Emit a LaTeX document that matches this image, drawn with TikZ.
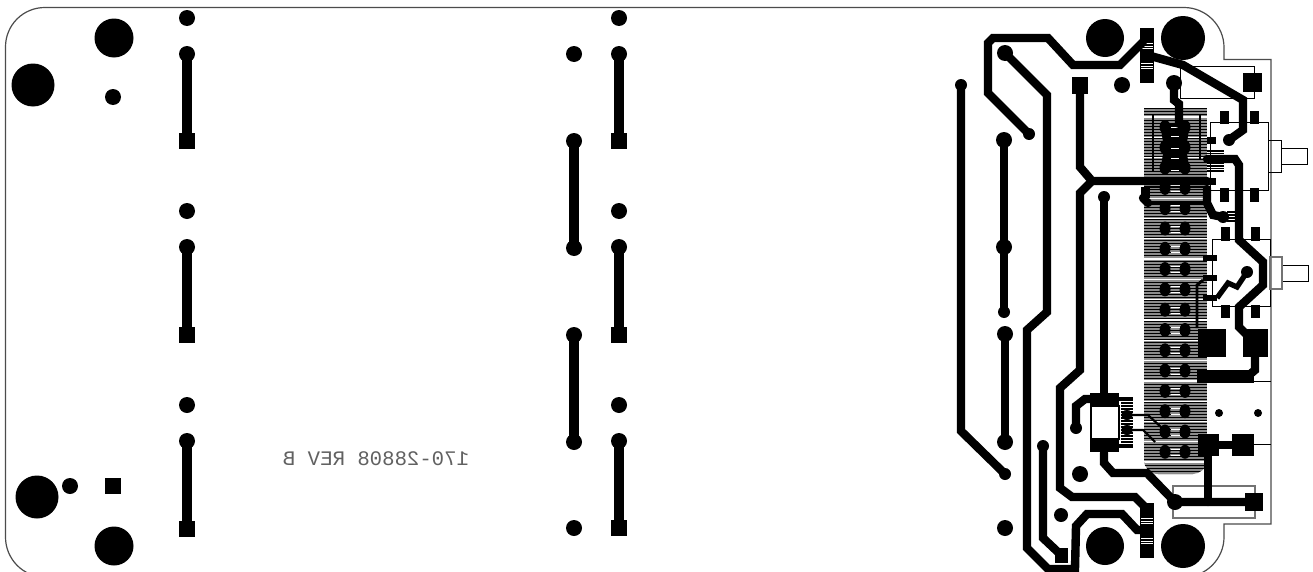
\documentclass[tikz,border=0pt]{standalone}
\usepackage{fontspec}
\newfontfamily\silk{Liberation Mono}
\tikzset{
 px/.style={x=0.75pt,y=-0.75pt},
 outlineln/.style={draw=black!70,line width=0.9pt},
 thinbox/.style={draw=black,line width=0.6pt},
 greybox/.style={draw=black!55,line width=1pt},
 trk/.style={draw=black,line width=6.3pt,line join=miter,line cap=round},
 trkl/.style={draw=black,line width=6.8pt,line cap=round},
 trkn/.style={draw=black,line width=4pt,line join=miter,line cap=butt},
 trkh/.style={draw=black,line width=1.6pt,line join=miter},
}
\newcommand{\hole}[3]{\fill[black] (#1,#2) circle[radius=#3];}
\newcommand{\sq}[4]{\fill[black] (#1,#2) rectangle (#3,#4);}
\begin{document}
\begin{tikzpicture}[px]
\useasboundingbox (0,0) rectangle (1313,571);
\fill[white] (0,0) rectangle (1313,571);
% board outline
\begin{scope}
\clip (0,0) rectangle (1313,571);
\draw[outlineln] (45,7.5) -- (1184,7.5) .. controls (1206,7.5) and (1224,25.5) .. (1224,47.5) -- (1224,59.5) -- (1271,59.5) -- (1271,524) -- (1224,524) -- (1224,537) .. controls (1224,559) and (1206,577) .. (1184,577) -- (45,577) .. controls (23,577) and (5.5,559) .. (5.5,537) -- (5.5,47) .. controls (5.5,25) and (23,7.5) .. (45,7.5) -- cycle;
\end{scope}
% left side
\hole{33}{85}{21.5}\hole{114}{38}{19.5}\hole{113}{97}{8}
\hole{37}{497}{21.5}\hole{70}{486}{8}\sq{105}{478}{121}{494}\hole{114}{546}{19.5}
\foreach \x/\y/\e in {187/54/141,187/247/335,187/441/529,619/54/141,619/247/335,619/441/528}{
 \draw[trkl] (\x,\y) -- (\x,\e);
 \hole{\x}{\y}{8}
 \sq{\x-8}{\e-8}{\x+8}{\e+8}
}
\foreach \x/\y in {187/18,187/211,187/405,619/18,619/211,619/405,574/54,574/528}{\hole{\x}{\y}{8}}
\foreach \y/\e in {141/248,335/442}{
 \draw[trkl] (574,\y) -- (574,\e);
 \hole{574}{\y}{8}\hole{574}{\e}{8}
}
\node[font=\silk\fontsize{15.5pt}{16pt}\selectfont,text=black!62,xscale=-1] (partno) at (376,459) {170-28808 REV B};
% hatched ground area
\begin{scope}
\clip (1144,108) -- (1207,108) -- (1207,460) .. controls (1207,468) and (1200,474) .. (1193,474) -- (1158,474) .. controls (1150,474) and (1144,468) .. (1144,460) -- cycle;
\fill[black!45] (1144,108) rectangle (1207,474);
\foreach \k in {0,...,122}{\draw[black,line width=0.8pt] (1144,108.5+3*\k) -- (1207,108.5+3*\k);}
\foreach \k in {0,...,17}{\draw[white,line width=1pt] (1144,117+20.3*\k) -- (1207,117+20.3*\k);}
\end{scope}
\foreach \k in {0,...,16}{
 \fill[black] (1165,127+20.3*\k) ellipse[x radius=5.5,y radius=7];
 \fill[black] (1185,127+20.3*\k) ellipse[x radius=5.5,y radius=7];
 \fill[white] (1170.5,124+20.3*\k) rectangle (1179.5,125+20.3*\k);
 \fill[white] (1170.5,130+20.3*\k) rectangle (1179.5,131+20.3*\k);
}
\fill[black] (1160,124) -- (1190,124) -- (1186,148) -- (1190,172) -- (1160,172) -- (1164,148) -- cycle;
\foreach \y in {127,136,148,158,170}{\fill[white] (1171,\y) rectangle (1179,\y+1);}
\draw[black,line width=0.8pt] (1153,115) -- (1153,172);
\draw[black,line width=0.8pt] (1200,115) -- (1200,160);
% thin component boxes
\draw[thinbox] (1180,66) rectangle (1254,98);
\draw[thinbox] (1210,122) rectangle (1268,190);
\draw[thinbox] (1212,239) rectangle (1270,306);
\draw[thinbox] (1281,148) rectangle (1307,164);
\draw[thinbox] (1282,265) rectangle (1308,281);
\draw[thinbox] (1268,140) rectangle (1281,172);
\draw[greybox] (1270,257) rectangle (1282,289);
\draw[thinbox] (1207,381) -- (1271,381);
\draw[thinbox] (1207,444) -- (1271,444);
\draw[greybox] (1173,486) rectangle (1255,518);
% mounting holes
\hole{1105}{38}{19}\hole{1183}{38}{22}\hole{1105}{546}{19}\hole{1183}{546}{22}
\hole{1122}{85}{8}\hole{1080}{474}{8}\hole{1061}{515}{7}\hole{1005}{528}{8}
\hole{1219}{413}{4}\hole{1258}{413}{4}
% connector strips
\foreach \y in {28,503}{
 \sq{1140}{\y}{1154}{\y+55}
 \foreach \d in {15,17.5,20}{\fill[white] (1141,\y+\d) rectangle (1153,\y+\d+0.9);}
 \foreach \d in {35,37.5,40}{\fill[white] (1141,\y+\d) rectangle (1153,\y+\d+0.9);}
}
% long tracks
\draw[trk] (1005,53) -- (1047,95) -- (1047,312) -- (1027,330) -- (1027,548) -- (1048,569) -- (1075,569) -- (1076,526) -- (1087,514) -- (1122,514) -- (1137,530) -- (1147,530);
\hole{1005}{53}{8}
\draw[trk] (1143,42) -- (1120,65) -- (1073,65) -- (1048,38) -- (993,38) -- (988,43) -- (988,93) -- (1029,134);
\hole{1029}{134}{6}
\draw[trk] (961,85) -- (961,431) -- (1005,474);
\hole{961}{85}{6}\hole{1005}{474}{6}
\draw[trk] (1004,140) -- (1004,312);
\hole{1004}{140}{8}\hole{1004}{247}{8}\hole{1004}{312}{6}
\draw[trk] (1005,334) -- (1005,442);
\hole{1005}{334}{8}\hole{1005}{442}{8}
\sq{1072}{77}{1088}{94}
\draw[trk] (1080,87) -- (1080,167) -- (1092,181) -- (1207,181);
\sq{1207}{178}{1216}{185}
\draw[trk] (1092,181) -- (1080,193) -- (1080,370) -- (1060,388) -- (1060,488) -- (1072,497) -- (1135,497) -- (1145,507);
\draw[trk] (1104,197) -- (1104,394);
\hole{1104}{197}{6}
\draw[trk] (1147,55) -- (1183,65) -- (1243,100) -- (1243,130) -- (1229,140);
\hole{1229}{140}{6}
\sq{1243}{73}{1262}{92}
\hole{1174}{83}{8}
\draw[trk] (1174,83) -- (1174,100) -- (1179,104) -- (1179,124);
\sq{1220}{111}{1229}{124}\sq{1250}{111}{1259}{124}
\sq{1220}{188}{1229}{202}\sq{1250}{188}{1259}{202}
\sq{1221}{227}{1230}{241}\sq{1251}{227}{1260}{241}
\sq{1221}{305}{1230}{318}\sq{1251}{305}{1260}{318}
\sq{1207}{137}{1216}{144}
% hatched stub near the first switch
\foreach \d in {0,2.5,...,20}{\draw[black,line width=1.1pt] (1207,151+\d) -- (1224,151+\d);}
\draw[trk] (1207,159) -- (1235,159) -- (1239,165) -- (1239,240) -- (1263,262) -- (1263,285) -- (1239,307) -- (1239,327) -- (1247,335);
\fill[black] (1141,187) rectangle (1150,198);
\draw[trk] (1143,198) -- (1148,203);
\draw[black,line width=1.4pt] (1141,187.5) -- (1207,187.5);
\draw[black,line width=1.4pt] (1148,203) -- (1207,203);
\draw[trk] (1207,189) -- (1207,203) -- (1213,215) -- (1223,217);
\hole{1223}{217}{6}
\foreach \d in {0,3,6,9}{\draw[black,line width=1pt] (1227,212+\d) -- (1235,212+\d);}
% second switch
\sq{1203}{255}{1217}{261}\sq{1203}{275}{1217}{281}\sq{1203}{295}{1217}{301}
\draw[trkn] (1217,298) -- (1228,283) -- (1237,287) -- (1247,272);
\hole{1247}{272}{6}
\draw[trkn,line width=2.2pt] (1197,328) -- (1197,285) -- (1203,280);
% power pads
\sq{1198}{329}{1226}{357}\sq{1243}{329}{1268}{357}
\draw[trk] (1255,357) -- (1255,370) -- (1248,376);
\sq{1197}{370}{1254}{383}
% regulator
\sq{1090}{393}{1119}{406}\sq{1090}{439}{1119}{452}
\draw[trk] (1076,428) -- (1076,406) -- (1085,399) -- (1095,399);
\hole{1076}{428}{6}
\draw[black,line width=3pt] (1119,399) -- (1133,399);
\draw[black,line width=3pt] (1119,446) -- (1133,446);
\foreach \k in {0,...,13}{\draw[black,line width=.8pt] (1121,403+\k*3) -- (1133,403+\k*3);}
\draw[black,line width=1pt] (1091,406) rectangle (1119,439);
\fill[white] (1092,407) rectangle (1118,438);
\fill[black] (1127,415) ellipse[x radius=6,y radius=5];
\fill[black] (1127,430) ellipse[x radius=6,y radius=5];
\draw[trkh] (1127,415) -- (1148,415) -- (1162,428);
\draw[trkh] (1127,430) -- (1143,430) -- (1155,442);
\draw[trk] (1104,453) -- (1104,463) -- (1113,473) -- (1147,473) -- (1175,502) -- (1253,502);
\hole{1175}{502}{8}
\sq{1245}{493}{1263}{511}
\draw[trk] (1208,502) -- (1208,444);
\sq{1198}{434}{1219}{456}\sq{1232}{434}{1254}{456}
\draw[trk] (1219,445) -- (1232,445);
\draw[trk] (1043,446) -- (1043,538) -- (1060,554);
\hole{1043}{446}{6}
\sq{1055}{548}{1068}{563}
\end{tikzpicture}
\end{document}
